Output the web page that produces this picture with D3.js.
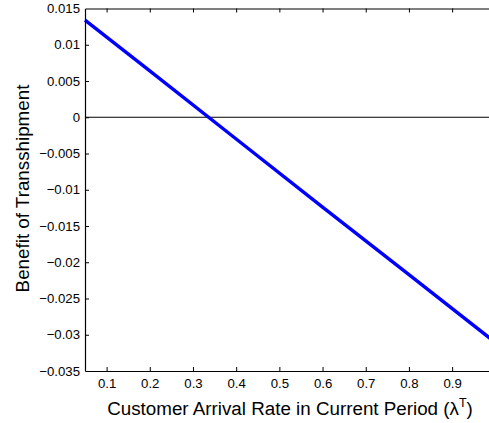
<!DOCTYPE html>
<html>
<head>
<meta charset="utf-8">
<script src="https://cdn.jsdelivr.net/npm/d3@7"></script>
<style>
  body { margin: 0; background: #fff; }
  svg { display: block; font-family: "Liberation Sans", Arial, sans-serif; }
</style>
</head>
<body>
<svg width="489" height="423"></svg>
<script>
// values
var rates = [0.05, 0.2, 0.4, 0.6, 0.8, 0.99];
var benefit = [0.0134, 0.0064, -0.0030, -0.0124, -0.0217, -0.0306];
var xTicks = [0.1, 0.2, 0.3, 0.4, 0.5, 0.6, 0.7, 0.8, 0.9];
var yTicks = [0.015, 0.01, 0.005, 0, -0.005, -0.01, -0.015, -0.02, -0.025, -0.03, -0.035];

var svg = d3.select("svg");
var mLeft = 85, mRight = 491, mTop = 8.5, mBottom = 371;

var x = d3.scaleLinear().domain([0.05, 0.99]).range([mLeft, mRight]);
var y = d3.scaleLinear().domain([-0.035, 0.015]).range([mBottom, mTop]);

function fmt(v){
    if (v == 0) return "0";
    return (v < 0 ? "\u2212" : "") + String(Math.abs(v));
}

// zero line
svg.append("line")
    .attr("x1", x(0.05)).attr("x2", x(0.99))
    .attr("y1", y(0)).attr("y2", y(0))
    .attr("stroke", "#000").attr("stroke-width", 1);

// data line
var line = d3.line().x((d, i) => x(rates[i])).y(d => y(d));
svg.append("path")
    .datum(benefit)
    .attr("d", line)
    .attr("fill", "none")
    .attr("stroke", "#0000ff")
    .attr("stroke-width", 3.4);

// axes
var xAxis = svg.append("g").attr("transform", "translate(0," + mBottom + ")")
    .call(d3.axisBottom(x).tickValues(xTicks).tickSizeInner(-4).tickSizeOuter(0).tickPadding(8).tickFormat(d => d));
var xTop = svg.append("g").attr("transform", "translate(0," + mTop + ")")
    .call(d3.axisTop(x).tickValues(xTicks).tickSizeInner(-4).tickSizeOuter(0).tickFormat(""));
var yAxis = svg.append("g").attr("transform", "translate(" + mLeft + ",0)")
    .call(d3.axisLeft(y).tickValues(yTicks).tickSizeInner(-4).tickSizeOuter(0).tickPadding(5).tickFormat(fmt));

[xAxis, xTop, yAxis].forEach(function(a){
    a.select(".domain").attr("stroke", "#000").attr("stroke-width", 1.2);
    a.selectAll(".tick line").attr("stroke", "#000");
    a.selectAll("text").attr("fill", "#000").attr("font-size", 13.2)
        .attr("font-family", "'Liberation Sans', Arial, sans-serif");
});
yAxis.selectAll(".tick").filter(d => d == 0.015 || d == -0.035).select("line").remove();

// axis titles
var xt = svg.append("text")
    .attr("x", 290).attr("y", 415)
    .attr("text-anchor", "middle")
    .attr("font-size", 18.8)
    .text("Customer Arrival Rate in Current Period (\u03bb");
xt.append("tspan").attr("dy", -8).attr("font-size", 12.5).text("T");
xt.append("tspan").attr("dy", 8).text(")");

svg.append("text")
    .attr("transform", "translate(29,188.5) rotate(-90)")
    .attr("text-anchor", "middle")
    .attr("font-size", 18.8)
    .text("Benefit of Transshipment");
</script>
</body>
</html>
